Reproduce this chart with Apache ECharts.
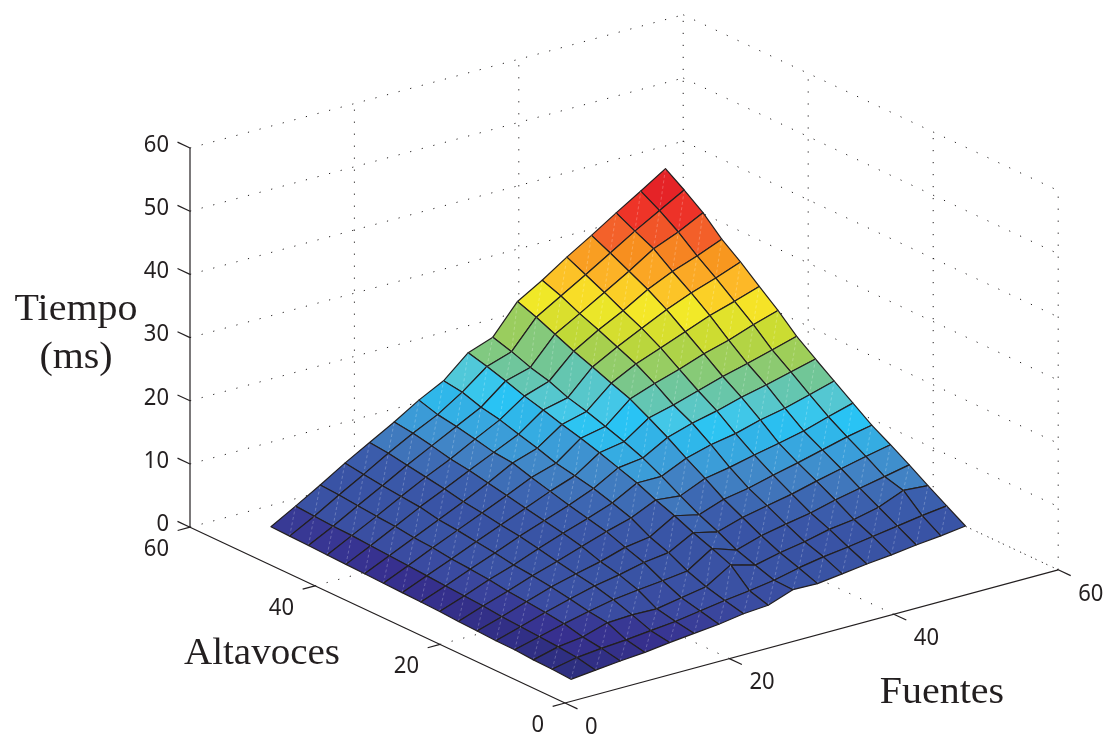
<!DOCTYPE html>
<html><head><meta charset="utf-8">
<style>html,body{margin:0;padding:0;background:#fff}#c{width:1106px;height:735px}</style>
<script src="https://cdn.jsdelivr.net/npm/echarts@6/dist/echarts.min.js"></script>
</head><body><div id="c"></div>
<script>
// Fuentes (columns) and Altavoces (rows) sampled values
const fuentes = [3,6,9,12,15,18,21,24,27,30,33,36,39,42,45,48,51];
const altavoces = [3,6,9,12,15,18,21,24,27,30,33,36,39,42,45,48,51];
// Tiempo (ms), one array per Altavoces value
const t03 = [1.3,1.7,2.1,2.4,2.9,3.3,3.7,4.3,4.6,6.0,5.9,6.4,6.9,7.3,7.8,8.2,8.7];
const t06 = [1.5,2.3,2.7,3.0,3.4,3.8,4.4,5.0,5.5,6.1,7.0,7.7,8.2,8.8,9.4,10.0,10.5];
const t09 = [1.6,2.6,3.1,4.3,4.5,4.4,5.1,5.8,8.2,7.1,8.0,8.7,9.6,10.1,11.0,12.6,12.3];
const t12 = [1.8,2.8,3.8,4.7,5.5,6.0,6.4,6.9,9.4,8.1,9.3,10.1,10.8,11.8,12.6,13.4,14.2];
const t15 = [1.85,3.0,4.2,5.3,6.3,7.0,7.9,8.4,10.5,9.6,10.8,11.6,12.4,13.4,14.3,15.2,16.0];
const t18 = [2.0,3.2,4.5,5.8,6.8,7.7,8.9,9.5,11.8,10.9,12.3,13.0,14.0,14.9,15.9,16.9,17.7];
const t21 = [2.1,3.5,4.8,6.2,7.4,8.7,10.0,11.1,12.9,12.5,14.2,14.9,15.8,16.6,17.5,18.7,19.8];
const t24 = [2.3,3.7,5.2,6.5,8.0,9.4,10.7,12.1,14.2,14.2,16.0,17.1,17.8,18.9,19.7,20.8,21.9];
const t27 = [2.4,3.9,5.5,7.0,8.6,10.0,11.4,13.0,15.2,15.7,17.9,19.1,20.0,21.1,22.0,23.0,24.0];
const t30 = [2.5,4.1,5.7,7.4,9.0,10.6,12.2,13.6,16.2,16.9,19.6,20.6,21.8,23.0,24.0,25.1,26.2];
const t33 = [2.6,4.3,6.1,7.8,9.5,11.2,13.0,14.2,17.1,17.9,21.2,22.6,23.8,25.2,26.3,27.7,28.9];
const t36 = [2.7,4.5,6.3,8.1,9.9,11.8,13.9,15.2,17.9,18.9,22.3,24.3,25.8,27.3,28.8,30.0,31.3];
const t39 = [2.8,4.7,6.7,8.7,10.5,12.4,14.2,16.0,18.8,19.7,23.5,25.6,27.5,29.4,31.0,32.3,33.8];
const t42 = [2.9,4.9,6.9,9.0,11.0,12.8,14.9,16.9,19.6,20.9,24.6,26.9,28.9,31.2,33.0,34.4,36.0];
const t45 = [3.0,5.0,7.2,9.3,11.5,13.5,15.5,17.5,20.6,21.7,25.9,28.1,30.4,32.7,35.2,36.8,38.8];
const t48 = [3.1,5.2,7.5,9.7,12.0,14.1,16.0,18.5,21.5,22.8,27.2,29.5,31.8,34.2,36.6,38.8,41.0];
const t51 = [3.2,5.4,7.7,10.1,12.3,14.5,16.9,18.9,22.3,23.7,28.3,30.6,33.2,35.6,38.1,40.5,43.0];
const tiempo = [t03,t06,t09,t12,t15,t18,t21,t24,t27,t30,t33,t36,t39,t42,t45,t48,t51];
const xTicks = [0,20,40,60];
const yTicks = [0,20,40,60];
const zTicks = [0,10,20,30,40,50,60];
const palette = ['#2e2f80','#37308f','#3a4aa0','#3a52a4','#3953a4','#3953a5','#3a58a8','#3c62af','#4076bb','#4188c8','#3a9fda','#32b2e6','#29c4f4','#4cc8e2','#62c6b4','#72c696','#8fcb6c','#a6d04f','#c5da34','#dde02c','#f3e928','#fbd326','#fdb827','#fba524','#f7931e','#f4652a','#f15528','#ee3528','#e92a26','#e42127','#de2026','#cc1f25','#b01e23'];

const INK = '#231f20';
// Orthographic view of the box: origin and unit vectors, in chart-plane units
function plane(x, y, z) {
  return [565 + 8.22 * x - 6.25 * y, 703 - 2.22 * x - 2.93 * y - 6.32 * z];
}

// helper segments: walls and floor of the box
const dotted = [];
zTicks.forEach(z => {
  dotted.push([[0,60,z],[60,60,z]]);
  dotted.push([[60,60,z],[60,0,z]]);
});
[20,40,60].forEach(x => dotted.push([[x,60,0],[x,60,60]]));
[20,40].forEach(y => dotted.push([[60,y,0],[60,y,60]]));
dotted.push([[60,0,0],[60,0,60]]);
[20,40,60].forEach(x => dotted.push([[x,0,0],[x,60,0]]));
[20,40].forEach(y => dotted.push([[0,y,0],[60,y,0]]));

const solid = [[[0,0,0],[60,0,0]],[[0,0,0],[0,60,0]],[[0,60,0],[0,60,60]]];
xTicks.forEach(x => solid.push([[x,0,0],[x,-2,0]]));
yTicks.forEach(y => solid.push([[0,y,0],[-1.5,y,0]]));
zTicks.forEach(z => solid.push([[0,60,z],[0,62,z]]));

const labels = [];
xTicks.forEach(x => labels.push({p:[x,0,0], t:String(x), dx:20, dy:24, a:'left'}));
yTicks.forEach(y => labels.push({p:[0,y,0], t:String(y), dx:-21, dy:22, a:'right'}));
zTicks.forEach(z => labels.push({p:[0,60,z], t:String(z), dx:-21, dy:-3, a:'right'}));

const cells = [];
for (let j = 15; j >= 0; j--) for (let i = 15; i >= 0; i--) cells.push([i, j, tiempo[j][i]]);

function pt(api, v) { return api.coord(plane(v[0], v[1], v[2])); }
function segRender(list, style) {
  return function (params, api) {
    const s = list[params.dataIndex];
    const a = pt(api, s[0]), b = pt(api, s[1]);
    return {type:'line', shape:{x1:a[0],y1:a[1],x2:b[0],y2:b[1]}, style};
  };
}
const idx = list => list.map((_, k) => [k, 0]);
const titleFont = '37px "Liberation Serif"';

const option = {
  animation:false,
  backgroundColor:'#fff',
  grid:{left:0,right:0,top:0,bottom:0},
  xAxis:{type:'value',min:0,max:1106,show:false},
  yAxis:{type:'value',min:0,max:735,inverse:true,show:false},
  visualMap:{show:false,seriesIndex:1,dimension:2,min:1.3,max:43,inRange:{color:palette}},
  series:[
    {type:'custom',coordinateSystem:'cartesian2d',silent:true,z:1,data:idx(dotted),
     renderItem:segRender(dotted,{stroke:INK,lineWidth:1,lineDash:[1.2,10.8],fill:null})},
    {type:'custom',name:'Tiempo',coordinateSystem:'cartesian2d',silent:true,z:2,data:cells,
     renderItem:function(params,api){
       const i=api.value(0), j=api.value(1);
       const P=(a,b)=>pt(api,[fuentes[a],altavoces[b],tiempo[b][a]]);
       const p00=P(i,j),p10=P(i+1,j),p11=P(i+1,j+1),p01=P(i,j+1);
       return {type:'group',children:[
         {type:'polygon',shape:{points:[p00,p10,p11,p01]},
          style:{fill:api.visual('color'),stroke:INK,lineWidth:1.2,lineJoin:'round'}},
         {type:'line',shape:{x1:p00[0],y1:p00[1],x2:p11[0],y2:p11[1]},
          style:{stroke:'rgba(255,255,255,0.4)',lineWidth:0.6,lineDash:[3,2.5]}}
       ]};
     }},
    {type:'custom',coordinateSystem:'cartesian2d',silent:true,z:3,data:idx(solid),
     renderItem:segRender(solid,{stroke:INK,lineWidth:1.2,fill:null})},
    {type:'custom',coordinateSystem:'cartesian2d',silent:true,z:4,data:idx(labels),
     renderItem:function(params,api){
       const l=labels[params.dataIndex], a=pt(api,l.p);
       return {type:'text',x:a[0]+l.dx,y:a[1]+l.dy,scaleY:1.1,
         style:{text:l.t,fill:INK,font:'22px "Noto Sans"',align:l.a,verticalAlign:'middle'}};
     }}
  ],
  graphic:[
    {type:'text',x:76,y:310,scaleX:1.08,style:{text:'Tiempo',fill:INK,font:titleFont,align:'center',verticalAlign:'middle'}},
    {type:'text',x:76,y:358,scaleX:1.08,style:{text:'(ms)',fill:INK,font:titleFont,align:'center',verticalAlign:'middle'}},
    {type:'text',x:262,y:654,scaleX:1.055,style:{text:'Altavoces',fill:INK,font:titleFont,align:'center',verticalAlign:'middle'}},
    {type:'text',x:942,y:693,scaleX:1.08,style:{text:'Fuentes',fill:INK,font:titleFont,align:'center',verticalAlign:'middle'}}
  ]
};
echarts.init(document.getElementById('c'),null,{renderer:'canvas'}).setOption(option);
</script></body></html>
